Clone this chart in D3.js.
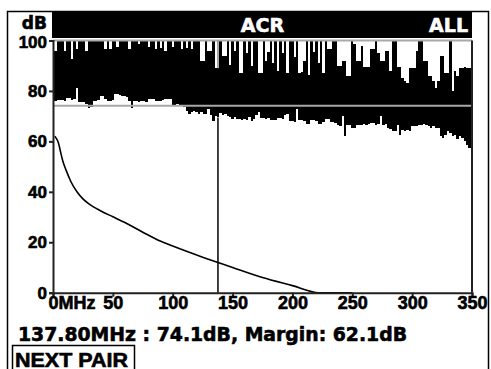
<!DOCTYPE html>
<html lang="en">
<head>
    <meta charset="UTF-8">
    <title>acr-plot</title>
    <script src="https://cdn.jsdelivr.net/npm/d3@7"></script>
    <style>
        body { margin: 0; background: #fff; }
        svg { display: block; font-family: "DejaVu Sans", sans-serif; font-weight: bold; }
        .heavy { stroke: #000; stroke-width: 0.6px; }
        .heavy-w { stroke: #fff; stroke-width: 0.6px; }
    </style>
</head>
<body>
<svg class="graph"></svg>
<script>
    var width = 491, height = 369;

    // sweep: one sample every 2 MHz, 0..350
    var freqStep = 2;
    // upper edge of the measured trace (dB)
    var traceMax = [
        100, 96, 100, 100, 100, 96, 100, 100, 92.5, 100,
        96.5, 100, 100, 100, 96, 100, 100, 100, 100, 100,
        100, 100, 96.5, 100, 96.5, 100, 100, 97.5, 100, 100,
        100, 100, 96.5, 100, 100, 100, 98.5, 100, 100, 100,
        97.5, 100, 100, 96.5, 100, 97, 100, 96, 100, 100,
        97.5, 100, 100, 100, 96.5, 100, 97, 100, 96.5, 100,
        100, 100, 91.8, 91.8, 100, 95.7, 95.7, 100, 89, 89,
        100, 93.7, 93.7, 100, 90.4, 100, 95.7, 100, 87, 87,
        100, 95, 100, 90, 100, 100, 87, 87, 100, 92,
        95.5, 100, 91, 100, 88, 100, 95, 100, 87, 100,
        100, 93.5, 100, 87, 87.5, 92, 100, 86.5, 100, 95.5,
        100, 91, 100, 87, 100, 96.5, 96.5, 100, 100, 89.8,
        89.8, 92, 92, 85.8, 85.8, 100, 98.5, 92, 92, 98,
        89.5, 89.5, 89.5, 96.5, 96.5, 100, 95, 92, 92, 96,
        96, 88, 100, 100, 89.5, 89.5, 85, 84, 83, 89,
        89, 89, 96, 100, 100, 92, 92, 86, 86, 84,
        81, 84, 94, 94, 87, 87, 100, 80, 88, 86,
        89, 89, 89.5, 89, 89, 89
    ];
    // lower edge of the measured trace (dB)
    var traceMin = [
        73.5, 76, 76.5, 76.6, 76.5, 76, 77.2, 77.2, 76.5, 76.8,
        81, 75.5, 75.5, 75.5, 75, 73.3, 73.5, 76, 76, 76.5,
        78, 78, 77, 76, 76, 76.5, 78.6, 78.6, 78.3, 78,
        78, 77.5, 76, 73.3, 76, 76, 75.5, 76, 76, 75.5,
        77, 77, 77, 76, 76, 76, 76.5, 77, 77, 77,
        74.5, 74.5, 75, 74.3, 74.3, 73.5, 72, 71, 71.5, 72,
        71.5, 71, 71.8, 70.9, 71, 73, 70.5, 68, 70, 69.5,
        71.3, 70.5, 70.8, 70, 69.5, 69, 69.5, 68.7, 68.7, 68.5,
        68.7, 68.5, 69.5, 68.2, 69, 70.5, 71.5, 69.3, 69.3, 69,
        69.3, 68.5, 68.3, 68.5, 69.3, 69.3, 69, 70.5, 70.8, 68,
        68, 67.8, 72.7, 68.3, 68.3, 68, 66.9, 66.9, 68.3, 68.3,
        68, 66.9, 66.9, 67.5, 69, 69, 67.5, 67.5, 67.3, 66.5,
        66.2, 70, 62, 66.5, 66.5, 65.4, 65.4, 66.3, 66.5, 66.5,
        66.8, 66.5, 66.8, 67.3, 67.3, 66.5, 66.8, 70, 66.5, 67,
        65.5, 65, 64.2, 64, 66.5, 62.5, 64.5, 64, 64.5, 64,
        66, 66, 66, 66.5, 66.5, 66.8, 66.5, 66, 65.5, 66,
        65.5, 65.5, 62, 61.5, 62.5, 64, 63.5, 62, 62.5, 61,
        62, 61.5, 60, 58.5, 57.5, 57
    ];

    // limit line
    var limitFreq = [1.5, 3, 4.5, 6, 8, 11, 15, 20, 25, 30, 40, 50, 60, 75, 89, 100, 125, 137.8, 150, 175, 200, 222, 250];
    var limitDb   = [62, 61, 59.5, 56.5, 52.5, 48.5, 44, 40, 37.2, 35.2, 32.4, 30.1, 27.8, 24, 20.6, 18.5, 14.1, 12, 10, 6, 2.8, 0, 0];

    var xTicks = [0, 50, 100, 150, 200, 250, 300, 350];
    var yTicks = [0, 20, 40, 60, 80, 100];

    var cursorFreq = 137.8, cursorDb = 74.1, marginDb = 62.1;
    var title = "ACR", pairLabel = "ALL", button = "NEXT PAIR";

    var svg = d3.select('.graph').attr('width', width).attr('height', height);

    var x = d3.scaleLinear().domain([0, 350]).range([53, 472]);
    var y = d3.scaleLinear().domain([0, 100]).range([292.7, 40.5]);

    // outer frame
    svg.append('path')
        .attr('d', 'M7.5,369V11.5H488.5V369')
        .attr('fill', 'none').attr('stroke', '#000').attr('stroke-width', 1.5);

    // header bar
    svg.append('rect')
        .attr('x', x(0) - 1).attr('y', 11)
        .attr('width', x(350) - x(0) + 1).attr('height', 27)
        .attr('fill', '#000');
    svg.append('text').attr('class', 'heavy-w')
        .attr('x', (x(0) + x(350)) / 2).attr('y', 32)
        .attr('text-anchor', 'middle').attr('fill', '#fff').attr('font-size', 19)
        .text(title);
    svg.append('text').attr('class', 'heavy-w')
        .attr('x', x(350) - 4).attr('y', 32)
        .attr('text-anchor', 'end').attr('fill', '#fff').attr('font-size', 19)
        .text(pairLabel);
    svg.append('text').attr('class', 'heavy')
        .attr('x', 47).attr('y', 29)
        .attr('text-anchor', 'end').attr('font-size', 17)
        .text('dB');

    // trace
    var trace = traceMax.map(function (d, i) {
        return {f: i * freqStep, hi: d, lo: traceMin[i]};
    });
    var area = d3.area()
        .curve(d3.curveStep)
        .x(function (d) { return x(d.f); })
        .y0(function (d) { return y(d.lo); })
        .y1(function (d) { return y(d.hi); });
    svg.append('path').datum(trace)
        .attr('d', area)
        .attr('fill', '#000')
        .attr('shape-rendering', 'crispEdges');

    // reference lines at 100 dB and at the marker level
    [100, cursorDb].forEach(function (v) {
        svg.append('line')
            .attr('x1', x(0)).attr('x2', x(350))
            .attr('y1', y(v)).attr('y2', y(v))
            .attr('stroke', '#a8a8a8').attr('stroke-width', 2);
    });

    // limit line
    var limit = limitFreq.map(function (f, i) { return [f, limitDb[i]]; });
    svg.append('path').datum(limit)
        .attr('d', d3.line()
            .curve(d3.curveMonotoneX)
            .x(function (d) { return x(d[0]); })
            .y(function (d) { return y(d[1]); }))
        .attr('fill', 'none').attr('stroke', '#000').attr('stroke-width', 1.6);

    // cursor
    var ci = Math.round(cursorFreq / freqStep);
    svg.append('line')
        .attr('x1', x(cursorFreq)).attr('x2', x(cursorFreq))
        .attr('y1', y(100)).attr('y2', y(traceMax[ci]))
        .attr('stroke', '#8a8a8a').attr('stroke-width', 1.5);
    svg.append('line')
        .attr('x1', x(cursorFreq)).attr('x2', x(cursorFreq))
        .attr('y1', y(traceMin[ci])).attr('y2', y(0))
        .attr('stroke', '#000').attr('stroke-width', 1.5);

    // axes
    var xAxis = svg.append('g')
        .attr('transform', 'translate(0,' + y(0) + ')')
        .call(d3.axisBottom(x).tickValues(xTicks).tickSize(4).tickPadding(0)
            .tickFormat(function (d) { return d === 0 ? '0MHz' : d; }));
    xAxis.selectAll('text').attr('class', 'heavy')
        .attr('font-size', 18).attr('font-family', null).attr('fill', '#000')
        .filter(function (d) { return d === 0; })
        .attr('text-anchor', 'start').attr('x', -5);

    var yAxis = svg.append('g')
        .attr('transform', 'translate(' + x(0) + ',0)')
        .call(d3.axisLeft(y).tickValues(yTicks).tickSize(4).tickPadding(2));
    yAxis.selectAll('text').attr('class', 'heavy')
        .attr('font-size', 17).attr('font-family', null).attr('fill', '#000')
        .filter(function (d) { return d === 100; })
        .attr('y', 1.5);

    svg.selectAll('.domain').attr('stroke', '#222').attr('stroke-width', 2);
    svg.selectAll('.tick line').attr('stroke', '#222').attr('stroke-width', 2);

    // right border of plot
    svg.append('line')
        .attr('x1', x(350)).attr('x2', x(350))
        .attr('y1', y(100)).attr('y2', y(0))
        .attr('stroke', '#222').attr('stroke-width', 2);

    // readout
    svg.append('text').attr('class', 'heavy')
        .attr('x', 18).attr('y', 341)
        .attr('font-size', 20)
        .attr('textLength', 389).attr('lengthAdjust', 'spacingAndGlyphs')
        .text(cursorFreq.toFixed(2) + 'MHz : ' + cursorDb.toFixed(1) + 'dB, Margin: ' + marginDb.toFixed(1) + 'dB');

    // button
    svg.append('rect').attr('x', 12.5).attr('y', 345.5).attr('width', 122).attr('height', 30)
        .attr('fill', 'none').attr('stroke', '#000').attr('stroke-width', 1.5);
    svg.append('text').attr('class', 'heavy')
        .attr('x', 15).attr('y', 366.5)
        .attr('font-family', '"Liberation Sans", Arial, sans-serif').attr('font-size', 20)
        .attr('textLength', 113).attr('lengthAdjust', 'spacingAndGlyphs')
        .text(button);
</script>
</body>
</html>
